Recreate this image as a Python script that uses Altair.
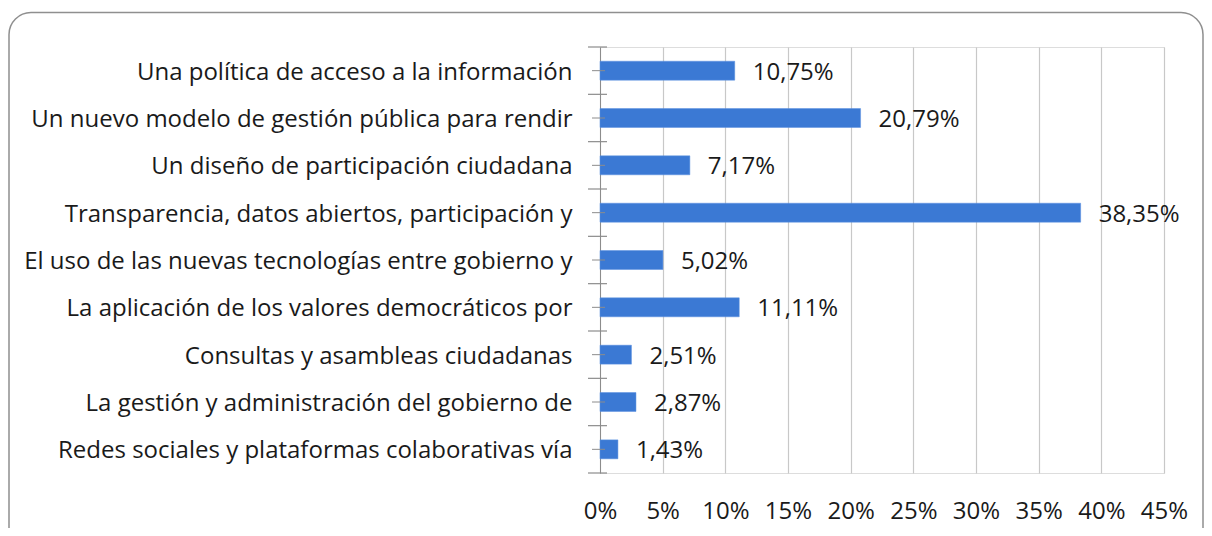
import altair as alt
import pandas as pd

categories = [
    "Una política de acceso a la información",
    "Un nuevo modelo de gestión pública para rendir",
    "Un diseño de participación ciudadana",
    "Transparencia, datos abiertos, participación y",
    "El uso de las nuevas tecnologías entre gobierno y",
    "La aplicación de los valores democráticos por",
    "Consultas y asambleas ciudadanas",
    "La gestión y administración del gobierno de",
    "Redes sociales y plataformas colaborativas vía",
]
values = [10.75, 20.79, 7.17, 38.35, 5.02, 11.11, 2.51, 2.87, 1.43]
tick_values = [0, 5, 10, 15, 20, 25, 30, 35, 40, 45]

df = pd.DataFrame({
    "cat": categories,
    "val": values,
    "label": [f"{v:.2f}".replace(".", ",") + "%" for v in values],
})

FONT = "Open Sans"
FS = 24
W, H = 564, 426
HALF = H / len(categories) / 2
AXIS_GRAY = "#8c8c8c"

y_enc = alt.Y("cat:N", sort=categories, title=None,
              scale=alt.Scale(paddingInner=0.6, paddingOuter=0.3),
              axis=alt.Axis(labelFont=FONT, labelFontSize=FS, labelColor="#1a1a1a",
                            labelLimit=0, labelPadding=28, ticks=False, tickSize=0,
                            labelOffset=2,
                            domainColor=AXIS_GRAY, grid=False))
x_enc = alt.X("val:Q", title=None,
              scale=alt.Scale(domain=[0, 45], nice=False),
              axis=alt.Axis(values=tick_values, labelExpr="datum.value + '%'",
                            labelFont=FONT, labelFontSize=FS, labelColor="#1a1a1a",
                            labelPadding=26, ticks=False, domain=False, labelFlush=False,
                            labelOverlap=False,
                            grid=True, gridColor="#c8c8c8", gridWidth=1.2))

base = alt.Chart(df)
y_plain = alt.Y("cat:N", sort=categories)

bars = base.mark_bar(color="#3b79d4", stroke="#5a90e0", strokeWidth=0.5).encode(y=y_enc, x=x_enc)

texts = base.mark_text(align="left", baseline="middle", dx=18, dy=2, font=FONT,
                       fontSize=FS, color="#1a1a1a").encode(
    y=y_plain, x=alt.X("val:Q"), text="label:N")

center_ticks = base.mark_rule(color=AXIS_GRAY, strokeWidth=1).encode(
    y=y_plain, x=alt.value(-8), x2=alt.value(5))

top_ticks = base.mark_rule(color=AXIS_GRAY, strokeWidth=1.2, yOffset=-HALF).encode(
    y=y_plain, x=alt.value(-12), x2=alt.value(7))

bottom_tick = base.transform_filter(
    alt.datum.cat == categories[-1]
).mark_rule(color=AXIS_GRAY, strokeWidth=1.2, yOffset=HALF).encode(
    y=y_plain, x=alt.value(-12), x2=alt.value(7))

border = alt.Chart(pd.DataFrame({"a": [0]})).mark_rect(
    fill=None, stroke="#8f8f8f", strokeWidth=1.5, cornerRadius=22, clip=False
).encode(x=alt.value(-591), x2=alt.value(603), y=alt.value(-34.5), y2=alt.value(520))

chart = alt.layer(border, bars, center_ticks, top_ticks, bottom_tick, texts).properties(
    width=W, height=H,
    autosize=alt.AutoSizeParams(type="none"),
    padding={"left": 592, "top": 39, "right": 40, "bottom": 55},
).configure_view(stroke=None).configure(background="white")

chart.save("out.html", embed_options={"renderer": "svg", "actions": False})
